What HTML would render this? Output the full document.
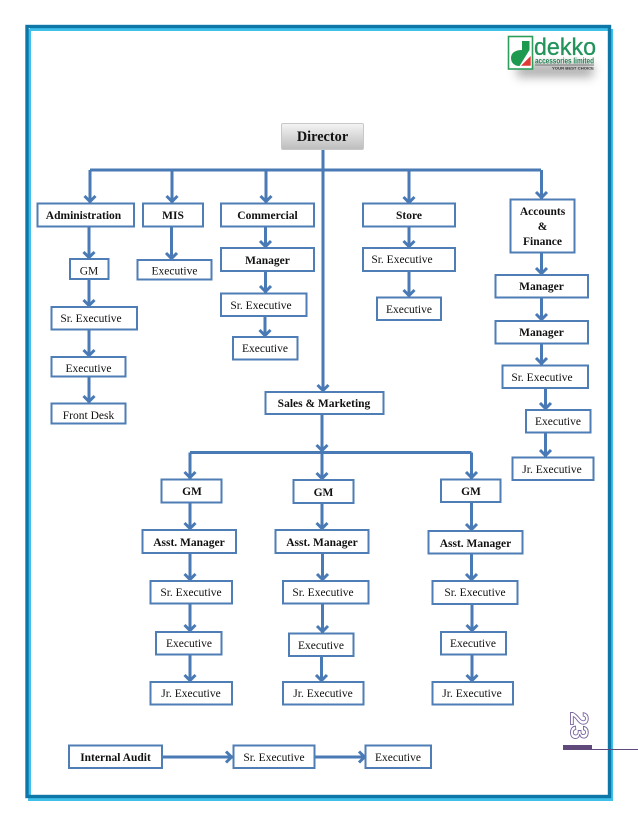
<!DOCTYPE html>
<html><head><meta charset="utf-8"><style>
html,body{margin:0;padding:0;background:#fff}
svg{display:block}
text{font-family:"Liberation Serif",serif;font-size:11.5px;fill:#111;text-anchor:middle}
.b{font-weight:bold}
.box rect{fill:#fff;stroke:#4f7db5;stroke-width:2}
.c path{fill:none;stroke:#4a7ab5;stroke-width:3;marker-end:url(#a)}
.t path{fill:none;stroke:#4a7ab5;stroke-width:3}
</style></head><body>
<svg width="638" height="826" viewBox="0 0 638 826" xmlns="http://www.w3.org/2000/svg">
<defs>
<marker id="a" markerUnits="userSpaceOnUse" markerWidth="16" markerHeight="16" refX="12.500" refY="8" orient="auto"><path d="M5.500 2.500L11 8L5.500 13.500" fill="none" stroke="#4a7ab5" stroke-width="3"/></marker>
<linearGradient id="g" x1="0" y1="0" x2="0" y2="1"><stop offset="0" stop-color="#f4f4f4"/><stop offset="1" stop-color="#bdbdbd"/></linearGradient>
<filter id="s" x="-30%" y="-60%" width="160%" height="240%"><feGaussianBlur stdDeviation="5"/></filter>
<filter id="d" x="-5%" y="-5%" width="110%" height="110%"><feGaussianBlur stdDeviation="0.3"/></filter>
</defs>
<g id="frame">
<path d="M30 29.500H610M29.500 29V796" stroke="#3fc0ea" stroke-width="3" fill="none"/>
<path d="M611.500 29V799.500H28" stroke="#3fc0ea" stroke-width="3" fill="none"/>
<rect x="27" y="26.500" width="582.500" height="770" fill="none" stroke="#0f77a8" stroke-width="3.400"/>
</g>
<g id="logo">
<rect x="517" y="64" width="76" height="13" fill="#8a8a8a" opacity=".7" filter="url(#s)"/>
<rect x="508.500" y="36.500" width="24" height="32.500" fill="#fff" stroke="#2f9e5b" stroke-width="1.600"/>
<path d="M522 41h7.500v9l-10 16c-5 0-8.500-3-8.500-8c0-5 4-8 11-8z" fill="#1e9a50"/>
<path d="M530.700 56v9.700h-9.700z" fill="#e03a36"/>
<text x="565" y="55" style="font-family:'Liberation Sans',sans-serif;font-size:24px;fill:#22935a;stroke:#22935a;stroke-width:.3" textLength="62" lengthAdjust="spacingAndGlyphs">dekko</text>
<text x="564.500" y="63.500" style="font-family:'Liberation Sans',sans-serif;font-size:8px;font-weight:bold;fill:#1f7f4f" textLength="59" lengthAdjust="spacingAndGlyphs">accessories limited</text>
<path d="M535 65h59" stroke="#555" stroke-width=".7"/>
<text x="573" y="69.500" style="font-family:'Liberation Sans',sans-serif;font-size:4px;font-weight:bold;fill:#333" textLength="42" lengthAdjust="spacingAndGlyphs">YOUR BEST CHOICE</text>
</g>
<g filter="url(#d)">
<g class="t">
<path d="M90 170H541M323 150V170"/>
<path d="M190 452.500H471.500"/>
</g>
<g class="c">
<path d="M323 170V392"/>
<path d="M90 170V203"/><path d="M172 170V203"/><path d="M266 170V203"/><path d="M409 170V204"/><path d="M541.500 170V199"/>
<path d="M89 226V259"/><path d="M89 279V307"/><path d="M89 329V357"/><path d="M89 376V403"/>
<path d="M171.500 226V260"/>
<path d="M265.500 226V248"/><path d="M265.500 271V293"/><path d="M265 316V337"/>
<path d="M409 226V248"/><path d="M409 271V297"/>
<path d="M541.500 253V275"/><path d="M541.500 297V321"/><path d="M541.500 343V365"/><path d="M545.500 388V410"/><path d="M545.500 432V457"/>
<path d="M322 414V452"/>
<path d="M190 452.500V479"/><path d="M322 452.500V480"/><path d="M471.500 452.500V479"/>
<path d="M190 502V530"/><path d="M322 503V530"/><path d="M471.500 502V531"/>
<path d="M190 553V581"/><path d="M322.500 553V581"/><path d="M471.500 554V581"/>
<path d="M190 604V632"/><path d="M322.500 604V633"/><path d="M472 604V632"/>
<path d="M190 655V682"/><path d="M321.500 656V682"/><path d="M472 654V682"/>
<path d="M162 757H233"/><path d="M315 757H366"/>
</g>
<g class="box">
<rect x="37.500" y="203.500" width="96.500" height="23"/>
<rect x="143" y="203.500" width="60" height="23"/>
<rect x="221" y="203.500" width="93" height="23"/>
<rect x="363" y="203.500" width="92" height="23"/>
<rect x="510.500" y="199.500" width="64" height="53"/>
<rect x="70" y="259" width="38.500" height="20"/>
<rect x="137.500" y="260" width="74" height="19.500"/>
<rect x="221" y="248" width="93" height="23"/>
<rect x="363" y="248" width="92" height="23"/>
<rect x="51.500" y="307" width="85.500" height="22.500"/>
<rect x="221" y="293.500" width="85.500" height="22.500"/>
<rect x="377" y="297.500" width="64" height="22.500"/>
<rect x="495.500" y="275" width="92.500" height="22.500"/>
<rect x="495.500" y="321" width="92.500" height="22.500"/>
<rect x="233" y="337" width="64.500" height="22.500"/>
<rect x="51.500" y="357" width="74" height="19.500"/>
<rect x="51.500" y="403.500" width="74" height="20"/>
<rect x="265.500" y="392" width="118" height="22"/>
<rect x="502.500" y="365.500" width="85.500" height="22.500"/>
<rect x="526" y="410" width="64.500" height="22.500"/>
<rect x="512.500" y="457.500" width="81" height="22.500"/>
<rect x="161.500" y="479.500" width="60" height="23"/>
<rect x="293.500" y="480" width="60" height="23"/>
<rect x="441" y="479.500" width="59.500" height="22.500"/>
<rect x="142.500" y="530" width="93.500" height="23"/>
<rect x="275.500" y="530" width="93" height="23"/>
<rect x="428.500" y="531" width="94" height="22.500"/>
<rect x="150.500" y="581" width="81.500" height="22.500"/>
<rect x="283" y="581" width="85.500" height="22.500"/>
<rect x="432.500" y="581" width="85" height="23"/>
<rect x="156" y="632" width="65.500" height="22.500"/>
<rect x="289" y="633.500" width="64.500" height="22.500"/>
<rect x="441" y="632" width="65" height="22.500"/>
<rect x="150.500" y="682" width="81.500" height="22.500"/>
<rect x="283" y="682" width="80.500" height="22.500"/>
<rect x="432.500" y="682" width="80.500" height="22.500"/>
<rect x="69" y="745.500" width="93" height="22.500"/>
<rect x="233.500" y="745.500" width="81" height="22.500"/>
<rect x="365.500" y="745.500" width="65.500" height="22.500"/>
</g>
<rect x="281.500" y="123.500" width="82" height="26" rx="1.500" fill="url(#g)" stroke="#c8c8c8"/>
</g>
<g>
<text class="b" x="322.500" y="141" style="font-size:14.300px">Director</text>
<text class="b" x="83.500" y="219">Administration</text>
<text class="b" x="173" y="219">MIS</text>
<text class="b" x="267.500" y="219">Commercial</text>
<text class="b" x="409" y="219">Store</text>
<text class="b" x="542.500" y="215">Accounts</text>
<text class="b" x="542.500" y="230">&amp;</text>
<text class="b" x="542.500" y="245">Finance</text>
<text x="89" y="274.500">GM</text>
<text x="174.500" y="274.500">Executive</text>
<text class="b" x="267.500" y="264">Manager</text>
<text x="402" y="263">Sr. Executive</text>
<text x="91" y="322">Sr. Executive</text>
<text x="261" y="309">Sr. Executive</text>
<text x="409" y="313">Executive</text>
<text class="b" x="541.500" y="290">Manager</text>
<text class="b" x="541.500" y="336">Manager</text>
<text x="265" y="352">Executive</text>
<text x="88.500" y="372">Executive</text>
<text x="88.500" y="419">Front Desk</text>
<text class="b" x="324" y="407">Sales &amp; Marketing</text>
<text x="542" y="381">Sr. Executive</text>
<text x="558" y="425">Executive</text>
<text x="552" y="473">Jr. Executive</text>
<text class="b" x="192" y="495">GM</text>
<text class="b" x="323.500" y="496">GM</text>
<text class="b" x="471" y="495">GM</text>
<text class="b" x="189" y="546">Asst. Manager</text>
<text class="b" x="322" y="546">Asst. Manager</text>
<text class="b" x="475.500" y="547">Asst. Manager</text>
<text x="191" y="596">Sr. Executive</text>
<text x="323" y="596">Sr. Executive</text>
<text x="475" y="596">Sr. Executive</text>
<text x="189" y="647">Executive</text>
<text x="321" y="649">Executive</text>
<text x="473" y="647">Executive</text>
<text x="191" y="697">Jr. Executive</text>
<text x="323" y="697">Jr. Executive</text>
<text x="472" y="697">Jr. Executive</text>
<text class="b" x="115.500" y="761">Internal Audit</text>
<text x="274" y="761">Sr. Executive</text>
<text x="398" y="761">Executive</text>
</g>
<rect x="563" y="745" width="29" height="5" fill="#604a7b"/>
<path d="M592 749.500H638" stroke="#604a7b" stroke-width="1"/>
<text transform="translate(570.500 725.500) rotate(90)" style="font-family:'Liberation Sans',sans-serif;font-size:25px;font-weight:bold;fill:#fff;stroke:#7a66a0;stroke-width:.9">23</text>
</svg>
</body></html>
